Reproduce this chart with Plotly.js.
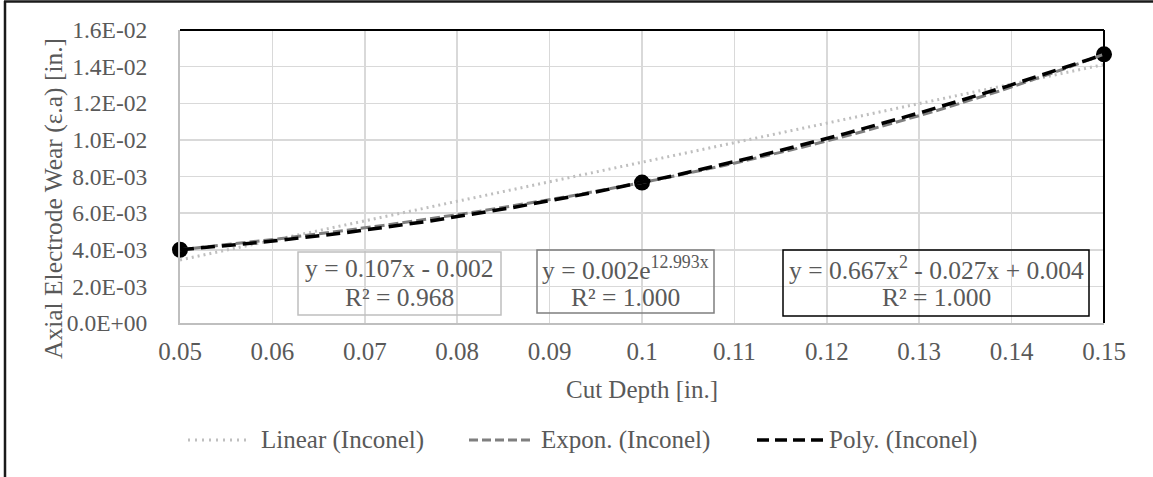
<!DOCTYPE html>
<html>
<head>
<meta charset="utf-8">
<script src="https://cdn.plot.ly/plotly-3.0.1.min.js"></script>
<style>
  html, body { margin: 0; padding: 0; background: #ffffff; }
  #chart { width: 1153px; height: 477px; }
</style>
</head>
<body>
<div id="chart"></div>
<script>
// Measured electrode wear for Inconel at three cut depths
const cutDepth = [0.05, 0.10, 0.15];
const wearInconel = [0.0040, 0.00767, 0.01467];

// Axis ticks
const xTickVals = [0.05, 0.06, 0.07, 0.08, 0.09, 0.10, 0.11, 0.12, 0.13, 0.14, 0.15];
const xTickText = ['0.05', '0.06', '0.07', '0.08', '0.09', '0.1', '0.11', '0.12', '0.13', '0.14', '0.15'];
const yTickVals = [0, 0.002, 0.004, 0.006, 0.008, 0.010, 0.012, 0.014, 0.016];
const yTickText = ['0.0E+00', '2.0E-03', '4.0E-03', '6.0E-03', '8.0E-03', '1.0E-02', '1.2E-02', '1.4E-02', '1.6E-02'];

// Trendline names and their fitted equations
const trendNames = ['Linear (Inconel)', 'Expon. (Inconel)', 'Poly. (Inconel)'];
const trendEquations = ['y = 0.107x - 0.002', 'y = 0.002e<sup>12.993x</sup>', 'y = 0.667x<sup>2</sup> - 0.027x + 0.004'];
const trendR2 = ['R² = 0.968', 'R² = 1.000', 'R² = 1.000'];

const W = 1153, H = 477;
const M = { l: 180, r: 49, t: 30, b: 154 };
const FONT = '"Times New Roman", "Liberation Serif", serif';
const TEXT = '#595959';

// pixel -> paper coordinate helpers
const pX = px => (px - M.l) / (W - M.l - M.r);
const pY = py => (H - M.b - py) / (H - M.t - M.b);

// ---- least-squares fits ----
function fitLinear(xs, ys) {
  const n = xs.length;
  const mx = xs.reduce((a, b) => a + b, 0) / n;
  const my = ys.reduce((a, b) => a + b, 0) / n;
  let sxy = 0, sxx = 0;
  for (let i = 0; i < n; i++) { sxy += (xs[i] - mx) * (ys[i] - my); sxx += (xs[i] - mx) ** 2; }
  const m = sxy / sxx;
  return { m: m, c: my - m * mx };
}
function fitExp(xs, ys) {
  const f = fitLinear(xs, ys.map(Math.log));
  return { a: Math.exp(f.c), b: f.m };
}
function fitQuad(xs, ys) {
  // normal equations for y = a x^2 + b x + c
  const S = k => xs.reduce((s, x) => s + x ** k, 0);
  const T = k => xs.reduce((s, x, i) => s + ys[i] * x ** k, 0);
  const A = [[S(4), S(3), S(2), T(2)], [S(3), S(2), S(1), T(1)], [S(2), S(1), xs.length, T(0)]];
  for (let i = 0; i < 3; i++) {
    for (let j = i + 1; j < 3; j++) {
      const f = A[j][i] / A[i][i];
      for (let k = i; k < 4; k++) A[j][k] -= f * A[i][k];
    }
  }
  const r = [0, 0, 0];
  for (let i = 2; i >= 0; i--) {
    let s = A[i][3];
    for (let k = i + 1; k < 3; k++) s -= A[i][k] * r[k];
    r[i] = s / A[i][i];
  }
  return { a: r[0], b: r[1], c: r[2] };
}

const lin = fitLinear(cutDepth, wearInconel);
const ex = fitExp(cutDepth, wearInconel);
const qd = fitQuad(cutDepth, wearInconel);

const xMin = Math.min(...cutDepth), xMax = Math.max(...cutDepth);
const xs = [];
for (let i = 0; i <= 200; i++) xs.push(xMin + (xMax - xMin) * i / 200);

const traces = [
  {
    x: cutDepth, y: wearInconel, type: 'scatter', mode: 'markers', name: 'Inconel',
    marker: { color: '#000000', size: 16 }, cliponaxis: false, showlegend: false
  },
  {
    x: xs, y: xs.map(x => lin.m * x + lin.c), type: 'scatter', mode: 'lines', name: trendNames[0],
    line: { color: '#BFBFBF', width: 3, dash: '2px,4px' }, showlegend: false
  },
  {
    x: xs, y: xs.map(x => ex.a * Math.exp(ex.b * x)), type: 'scatter', mode: 'lines', name: trendNames[1],
    line: { color: '#7F7F7F', width: 3, dash: '10px,4px' }, showlegend: false
  },
  {
    x: xs, y: xs.map(x => qd.a * x * x + qd.b * x + qd.c), type: 'scatter', mode: 'lines', name: trendNames[2],
    line: { color: '#000000', width: 3.5, dash: '14px,7px' }, showlegend: false
  }
];

const shapes = [];
const annotations = [];

// outer chart frame (left and top edges)
shapes.push({ type: 'line', xref: 'paper', yref: 'paper', x0: pX(5), x1: pX(5), y0: pY(H), y1: pY(1), line: { color: '#1a1a1a', width: 2.5 } });
shapes.push({ type: 'line', xref: 'paper', yref: 'paper', x0: pX(4), x1: pX(W), y0: pY(1.5), y1: pY(1.5), line: { color: '#1a1a1a', width: 2.5 } });

// plot-area border on top and right
shapes.push({ type: 'line', xref: 'paper', yref: 'paper', x0: 0, x1: 1, y0: 1, y1: 1, line: { color: '#000000', width: 2 } });
shapes.push({ type: 'line', xref: 'paper', yref: 'paper', x0: 1, x1: 1, y0: 0, y1: 1, line: { color: '#000000', width: 2 } });

// trendline equation boxes
const boxes = [
  { x0: 298, x1: 501, y0: 252, y1: 315, color: '#BFBFBF' },
  { x0: 537, x1: 714, y0: 250, y1: 313, color: '#7F7F7F' },
  { x0: 783, x1: 1089, y0: 250, y1: 316, color: '#000000' }
];
boxes.forEach((b, i) => {
  shapes.push({ type: 'rect', xref: 'paper', yref: 'paper', x0: pX(b.x0), x1: pX(b.x1), y0: pY(b.y1), y1: pY(b.y0),
    line: { color: b.color, width: 1.5 }, fillcolor: 'rgba(0,0,0,0)' });
  const cx = pX((b.x0 + b.x1) / 2);
  annotations.push({ xref: 'paper', yref: 'paper', x: cx, y: pY(268), xanchor: 'center', yanchor: 'middle',
    text: trendEquations[i], showarrow: false, font: { family: FONT, size: 25.5, color: TEXT } });
  annotations.push({ xref: 'paper', yref: 'paper', x: cx, y: pY(297), xanchor: 'center', yanchor: 'middle',
    text: trendR2[i], showarrow: false, font: { family: FONT, size: 25.5, color: TEXT } });
});

// y-axis title
annotations.push({ xref: 'paper', yref: 'paper', x: pX(53), y: pY(198), xanchor: 'center', yanchor: 'middle',
  text: 'Axial Electrode Wear (ε.a) [in.]', textangle: -90, showarrow: false, font: { family: FONT, size: 25.5, color: TEXT } });
// x-axis title
annotations.push({ xref: 'paper', yref: 'paper', x: 0.5, y: pY(389), xanchor: 'center', yanchor: 'middle',
  text: 'Cut Depth [in.]', showarrow: false, font: { family: FONT, size: 25, color: TEXT } });

// legend
const legendY = 440;
const legendItems = [
  { x0: 188, x1: 251, tx: 259, color: '#BFBFBF', width: 3, dash: '2px,5px' },
  { x0: 469, x1: 534, tx: 539, color: '#7F7F7F', width: 3, dash: '9px,4px' },
  { x0: 757, x1: 823, tx: 827, color: '#000000', width: 3.5, dash: '12px,6px' }
];
legendItems.forEach((it, i) => {
  shapes.push({ type: 'line', xref: 'paper', yref: 'paper', x0: pX(it.x0), x1: pX(it.x1), y0: pY(legendY), y1: pY(legendY),
    line: { color: it.color, width: it.width, dash: it.dash } });
  annotations.push({ xref: 'paper', yref: 'paper', x: pX(it.tx), y: pY(legendY), xanchor: 'left', yanchor: 'middle',
    text: trendNames[i], showarrow: false, font: { family: FONT, size: 25, color: TEXT } });
});

const layout = {
  width: W, height: H,
  margin: M,
  paper_bgcolor: '#ffffff', plot_bgcolor: '#ffffff',
  font: { family: FONT, size: 24, color: TEXT },
  showlegend: false,
  xaxis: {
    range: [0.05, 0.15], tickvals: xTickVals, ticktext: xTickText,
    showgrid: true, gridcolor: '#D9D9D9', gridwidth: 1.5,
    showline: true, linecolor: '#BFBFBF', linewidth: 2,
    ticks: 'outside', ticklen: 5, tickcolor: 'rgba(0,0,0,0)',
    tickfont: { family: FONT, size: 25, color: TEXT }, zeroline: false, fixedrange: true
  },
  yaxis: {
    range: [0, 0.016], tickvals: yTickVals, ticktext: yTickText,
    showgrid: true, gridcolor: '#D9D9D9', gridwidth: 1.5,
    showline: true, linecolor: '#BFBFBF', linewidth: 2,
    ticks: 'outside', ticklen: 26, tickcolor: 'rgba(0,0,0,0)',
    tickfont: { family: FONT, size: 23.5, color: TEXT }, zeroline: false, fixedrange: true
  },
  shapes: shapes,
  annotations: annotations
};

Plotly.newPlot('chart', traces, layout, { displayModeBar: false, staticPlot: true });
</script>
</body>
</html>
